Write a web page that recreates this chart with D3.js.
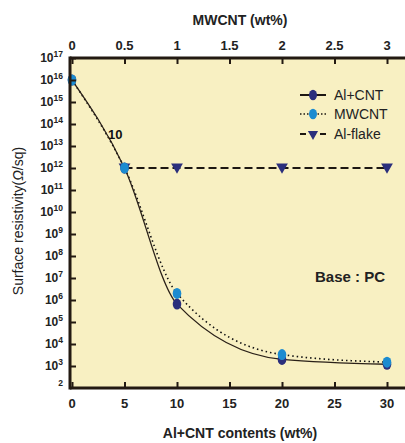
<!DOCTYPE html>
<html>
<head>
<meta charset="utf-8">
<script src="https://cdn.jsdelivr.net/npm/d3@7"></script>
<style>
  html, body { margin: 0; padding: 0; background: #ffffff; }
  svg { display: block; }
  .narrow { font-family: "Liberation Sans Narrow", "Arial Narrow", "Liberation Sans", Arial, sans-serif; }
  .sans { font-family: "Liberation Sans", Arial, sans-serif; }
</style>
</head>
<body>
<svg id="chart" width="405" height="443"></svg>
<script>
// Bottom axis: Al+CNT content (wt%); top axis: MWCNT content (wt%)
const alcntContent = [0, 5, 10, 20, 30];
const alcntResistivity = [1e16, 1e12, 6.5e5, 2.0e3, 1.2e3];

const mwcntContent = [0, 0.5, 1, 2, 3];
const mwcntResistivity = [1e16, 1e12, 2.0e6, 3.3e3, 1.5e3];

const alflakeContent = [5, 10, 20, 30];
const alflakeResistivity = [1e12, 1e12, 1e12, 1e12];

const bottomTicks = [0, 5, 10, 15, 20, 25, 30];
const topTicks = [0, 0.5, 1, 1.5, 2, 2.5, 3];
const yExponents = [3, 4, 5, 6, 7, 8, 9, 10, 11, 12, 13, 14, 15, 16, 17];

const legendLabels = ["Al+CNT", "MWCNT", "Al-flake"];

const svg = d3.select("#chart");

const plot = { left: 70, right: 405, top: 58, bottom: 388 };

const x = d3.scaleLinear().domain([0, 30]).range([72, 387]);
const xTop = d3.scaleLinear().domain([0, 3]).range([72, 387]);
const y = d3.scaleLog().domain([1e2, 1e17]).range([plot.bottom, plot.top]);

const axisColor = "#231a12";
const navy = "#2b2f7c";
const blue = "#1b8bd0";

// plot background
svg.append("rect")
  .attr("x", plot.left).attr("y", plot.top)
  .attr("width", plot.right - plot.left)
  .attr("height", plot.bottom - plot.top)
  .attr("fill", "#f8f0c2");

// curves (drawn in log space through the scale)
const lineAl = d3.line()
  .x((d, i) => x(alcntContent[i]))
  .y(d => y(d))
  .curve(d3.curveMonotoneX);
const lineMw = d3.line()
  .x((d, i) => xTop(mwcntContent[i]))
  .y(d => y(d))
  .curve(d3.curveMonotoneX);
const lineFlake = d3.line()
  .x((d, i) => x(alflakeContent[i]))
  .y(d => y(d));

svg.append("path")
  .attr("d", lineMw(mwcntResistivity))
  .attr("fill", "none")
  .attr("stroke", "#111")
  .attr("stroke-width", 1.6)
  .attr("stroke-dasharray", "1.5,3");

svg.append("path")
  .attr("d", lineAl(alcntResistivity))
  .attr("fill", "none")
  .attr("stroke", "#2a2018")
  .attr("stroke-width", 1.3);

svg.append("path")
  .attr("d", lineFlake(alflakeResistivity))
  .attr("fill", "none")
  .attr("stroke", "#1d1712")
  .attr("stroke-width", 2)
  .attr("stroke-dasharray", "8,4");

// label beside the curve
svg.append("text")
  .attr("class", "narrow")
  .attr("x", 108).attr("y", 139)
  .attr("font-size", 13).attr("font-weight", "bold")
  .attr("fill", "#111")
  .text("10");

// markers
const tri = d3.symbol().type(d3.symbolTriangle).size(60);

svg.append("g").selectAll("path")
  .data(alflakeResistivity)
  .join("path")
  .attr("d", tri)
  .attr("transform", (d, i) => `translate(${x(alflakeContent[i])},${y(d) - 1}) rotate(180)`)
  .attr("fill", navy);

svg.append("g").selectAll("ellipse")
  .data(alcntResistivity)
  .join("ellipse")
  .attr("cx", (d, i) => x(alcntContent[i]))
  .attr("cy", d => y(d))
  .attr("rx", 4.3).attr("ry", 5.5)
  .attr("fill", navy);

svg.append("g").selectAll("ellipse")
  .data(mwcntResistivity)
  .join("ellipse")
  .attr("cx", (d, i) => xTop(mwcntContent[i]))
  .attr("cy", d => y(d))
  .attr("rx", 4.3).attr("ry", 5.5)
  .attr("fill", blue);

// axes
const bottomAxis = d3.axisTop(x).tickValues(bottomTicks).tickSize(6).tickFormat("");
const topAxis = d3.axisBottom(xTop).tickValues(topTicks).tickSize(6).tickFormat("");
const leftAxis = d3.axisRight(y).tickValues(yExponents.map(e => Math.pow(10, e))).tickSize(6).tickFormat("");

function styleAxis(g) {
  g.select(".domain").remove();
  g.selectAll(".tick line").attr("stroke", axisColor).attr("stroke-width", 2);
}

svg.append("g").attr("transform", `translate(0,${plot.bottom})`).call(bottomAxis).call(styleAxis);
svg.append("g").attr("transform", `translate(0,${plot.top})`).call(topAxis).call(styleAxis);
svg.append("g").attr("transform", `translate(${plot.left},0)`).call(leftAxis).call(styleAxis);

// frame lines
svg.append("line").attr("x1", plot.left).attr("x2", plot.right)
  .attr("y1", plot.bottom).attr("y2", plot.bottom)
  .attr("stroke", axisColor).attr("stroke-width", 3);
svg.append("line").attr("x1", plot.left).attr("x2", plot.right)
  .attr("y1", plot.top).attr("y2", plot.top)
  .attr("stroke", axisColor).attr("stroke-width", 3);
svg.append("line").attr("x1", plot.left).attr("x2", plot.left)
  .attr("y1", plot.top - 1.5).attr("y2", plot.bottom + 1.5)
  .attr("stroke", axisColor).attr("stroke-width", 3);

// tick labels
svg.append("g").selectAll("text")
  .data(bottomTicks)
  .join("text")
  .attr("class", "narrow")
  .attr("x", d => x(d)).attr("y", 408)
  .attr("text-anchor", "middle")
  .attr("font-size", 13).attr("font-weight", "bold").attr("fill", "#222")
  .text(d => d);

svg.append("g").selectAll("text")
  .data(topTicks)
  .join("text")
  .attr("class", "narrow")
  .attr("x", d => xTop(d)).attr("y", 50)
  .attr("text-anchor", "middle")
  .attr("font-size", 13).attr("font-weight", "bold").attr("fill", "#222")
  .text(d => d);

const yl = svg.append("g").selectAll("text")
  .data(yExponents)
  .join("text")
  .attr("class", "narrow")
  .attr("x", 63).attr("y", d => y(Math.pow(10, d)) + 4)
  .attr("text-anchor", "end")
  .attr("font-size", 12).attr("font-weight", "bold").attr("fill", "#222");
yl.append("tspan").text("10");
yl.append("tspan").attr("dy", -5).attr("font-size", 8.5).text(d => d);

svg.append("text")
  .attr("class", "narrow")
  .attr("x", 63).attr("y", y(1e2) - 2)
  .attr("text-anchor", "end")
  .attr("font-size", 8.5).attr("font-weight", "bold").attr("fill", "#222")
  .text("2");

// axis titles
svg.append("text")
  .attr("class", "sans")
  .attr("x", 240).attr("y", 25)
  .attr("text-anchor", "middle")
  .attr("font-size", 14).attr("font-weight", "bold").attr("fill", "#222")
  .text("MWCNT (wt%)");

svg.append("text")
  .attr("class", "sans")
  .attr("x", 240).attr("y", 438)
  .attr("text-anchor", "middle")
  .attr("font-size", 14).attr("font-weight", "bold").attr("fill", "#222")
  .text("Al+CNT contents (wt%)");

const ytitle = svg.append("text")
  .attr("class", "sans")
  .attr("transform", "translate(23,221) rotate(-90)")
  .attr("text-anchor", "middle")
  .attr("font-size", 14).attr("fill", "#222");
ytitle.append("tspan").text("Surface resistivity(");
ytitle.append("tspan").attr("font-style", "italic").text("Ω");
ytitle.append("tspan").text("/sq)");

svg.append("text")
  .attr("class", "sans")
  .attr("x", 385).attr("y", 282)
  .attr("text-anchor", "end")
  .attr("font-size", 15).attr("font-weight", "bold").attr("fill", "#222")
  .text("Base : PC");

// legend
const legendY = [95, 114, 134];
const lg = svg.append("g").selectAll("g")
  .data(legendLabels)
  .join("g")
  .attr("transform", (d, i) => `translate(300,${legendY[i]})`);

lg.append("line")
  .attr("x1", 0).attr("x2", 26).attr("y1", 0).attr("y2", 0)
  .attr("stroke", "#1d1712")
  .attr("stroke-width", (d, i) => i === 1 ? 1.5 : 2)
  .attr("stroke-dasharray", (d, i) => i === 1 ? "1.5,2" : (i === 2 ? "6,4" : null));

lg.filter((d, i) => i < 2).append("ellipse")
  .attr("cx", 13).attr("cy", 0).attr("rx", 4).attr("ry", 5.2)
  .attr("fill", (d, i) => i === 0 ? navy : blue);

lg.filter((d, i) => i === 2).append("path")
  .attr("d", d3.symbol().type(d3.symbolTriangle).size(45))
  .attr("transform", "translate(13,0) rotate(180)")
  .attr("fill", navy);

lg.append("text")
  .attr("class", "narrow")
  .attr("x", 34).attr("y", 5)
  .attr("font-size", 14).attr("fill", "#222")
  .text(d => d);
</script>
</body>
</html>
